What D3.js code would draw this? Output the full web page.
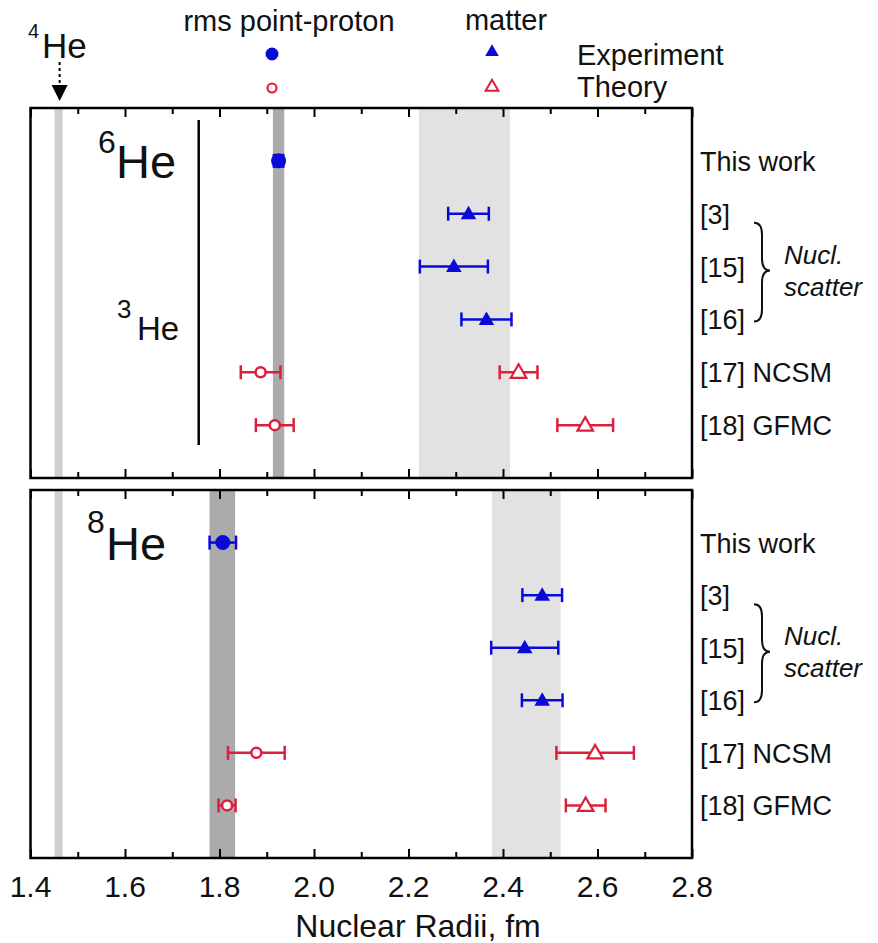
<!DOCTYPE html>
<html>
<head>
<meta charset="utf-8">
<script src="https://cdn.jsdelivr.net/npm/d3@7"></script>
<style>
  html, body { margin: 0; padding: 0; background: #fff; }
  svg { display: block; }
  text { font-family: "Liberation Sans", Arial, Helvetica, sans-serif; fill: #111; }
</style>
</head>
<body>
<div id="chart"></div>
<script>
// ---------------- DATA ----------------
const xDomain = [1.4, 2.8];
const tickLabels = [1.4, 1.6, 1.8, 2.0, 2.2, 2.4, 2.6, 2.8];
const minorTicks = [1.5, 1.7, 1.9, 2.1, 2.3, 2.5, 2.7];
const rowLabels = ["This work", "[3]", "[15]", "[16]", "[17] NCSM", "[18] GFMC"];

// 4He point-proton radius band and 3He radius line
const he4Band = [1.451, 1.468];
const he3Radius = 1.756;

// 6He panel
const he6ProtonBand = [1.913, 1.937];
const he6MatterBand = [2.222, 2.415];
const he6Proton = [
  { row: 0, v: 1.925, err: 0.010, kind: "exp" },
  { row: 4, v: 1.887, err: 0.042, kind: "th" },
  { row: 5, v: 1.917, err: 0.040, kind: "th" }
];
const he6Matter = [
  { row: 1, v: 2.327, err: 0.043, kind: "exp" },
  { row: 2, v: 2.296, err: 0.072, kind: "exp" },
  { row: 3, v: 2.365, err: 0.053, kind: "exp" },
  { row: 4, v: 2.433, err: 0.040, kind: "th" },
  { row: 5, v: 2.574, err: 0.059, kind: "th" }
];

// 8He panel
const he8ProtonBand = [1.779, 1.833];
const he8MatterBand = [2.377, 2.522];
const he8Proton = [
  { row: 0, v: 1.807, err: 0.028, kind: "exp" },
  { row: 4, v: 1.878, err: 0.060, kind: "th" },
  { row: 5, v: 1.816, err: 0.018, kind: "th" }
];
const he8Matter = [
  { row: 1, v: 2.483, err: 0.042, kind: "exp" },
  { row: 2, v: 2.446, err: 0.071, kind: "exp" },
  { row: 3, v: 2.483, err: 0.043, kind: "exp" },
  { row: 4, v: 2.595, err: 0.082, kind: "th" },
  { row: 5, v: 2.575, err: 0.042, kind: "th" }
];

// ---------------- LAYOUT ----------------
const W = 878, H = 943;
const left = 30.5, right = 692;
const panels = [
  { top: 108, bottom: 478, label: "6", pBand: he6ProtonBand, mBand: he6MatterBand, proton: he6Proton, matter: he6Matter },
  { top: 490, bottom: 858, label: "8", pBand: he8ProtonBand, mBand: he8MatterBand, proton: he8Proton, matter: he8Matter }
];
const BLUE = "#0a0ad8";
const RED = "#dc1f3c";

const svg = d3.select("#chart").append("svg")
  .attr("width", W).attr("height", H)
  .attr("viewBox", `0 0 ${W} ${H}`);

const x = d3.scaleLinear().domain(xDomain).range([left, right]);

const triSym = d3.symbol().type(d3.symbolTriangle).size(105);

function drawMarker(g, cx, cy, shape, kind) {
  const col = kind === "exp" ? BLUE : RED;
  if (shape === "circle") {
    if (kind === "exp") {
      g.append("circle").attr("cx", cx).attr("cy", cy).attr("r", 7.5).attr("fill", col);
    } else {
      g.append("circle").attr("cx", cx).attr("cy", cy).attr("r", 5).attr("fill", "#fff")
        .attr("stroke", col).attr("stroke-width", 2.5);
    }
  } else {
    const p = g.append("path").attr("d", triSym()).attr("transform", `translate(${cx},${cy + 1})`);
    if (kind === "exp") p.attr("fill", col);
    else p.attr("fill", "#fff").attr("stroke", col).attr("stroke-width", 2.2);
  }
}

panels.forEach((P, pi) => {
  const y = d3.scaleLinear().domain([0, 7]).range([P.top, P.bottom]);
  const g = svg.append("g");

  // bands
  const band = (r, fill) => g.append("rect")
    .attr("x", x(r[0])).attr("width", x(r[1]) - x(r[0]))
    .attr("y", P.top).attr("height", P.bottom - P.top).attr("fill", fill);
  band(he4Band, "#cfcfcf");
  band(P.mBand, "#e2e2e2");
  band(P.pBand, "#ababab");

  // 3He line in 6He panel
  if (pi === 0) {
    g.append("line").attr("x1", x(he3Radius)).attr("x2", x(he3Radius))
      .attr("y1", P.top + 12).attr("y2", P.bottom - 33)
      .attr("stroke", "#000").attr("stroke-width", 2.5);
  }

  // frame
  g.append("rect").attr("x", left).attr("y", P.top)
    .attr("width", right - left).attr("height", P.bottom - P.top)
    .attr("fill", "none").attr("stroke", "#000").attr("stroke-width", 2.5);

  // axes ticks (inward, top and bottom)
  const axTop = d3.axisBottom(x).tickValues(tickLabels).tickSize(9).tickFormat("");
  const axTopMinor = d3.axisBottom(x).tickValues(minorTicks).tickSize(6).tickFormat("");
  const axBot = d3.axisTop(x).tickValues(tickLabels).tickSize(9).tickFormat("");
  const axBotMinor = d3.axisTop(x).tickValues(minorTicks).tickSize(6).tickFormat("");
  [axTop, axTopMinor].forEach(a => g.append("g").attr("transform", `translate(0,${P.top})`).call(a));
  [axBot, axBotMinor].forEach(a => g.append("g").attr("transform", `translate(0,${P.bottom})`).call(a));
  g.selectAll(".domain").remove();
  g.selectAll(".tick line").attr("stroke", "#000").attr("stroke-width", 2);

  // data
  const drawSeries = (data, shape) => {
    data.forEach(d => {
      const col = d.kind === "exp" ? BLUE : RED;
      const cy = y(d.row + 1);
      const x0 = x(d.v - d.err), x1 = x(d.v + d.err);
      g.append("line").attr("x1", x0).attr("x2", x1).attr("y1", cy).attr("y2", cy)
        .attr("stroke", col).attr("stroke-width", 2.5);
      [x0, x1].forEach(xx => g.append("line").attr("x1", xx).attr("x2", xx)
        .attr("y1", cy - 7).attr("y2", cy + 7).attr("stroke", col).attr("stroke-width", 2.5));
      drawMarker(g, x(d.v), cy, shape, d.kind);
    });
  };
  drawSeries(P.proton, "circle");
  drawSeries(P.matter, "triangle");

  // isotope label
  if (pi === 0) {
    g.append("text").attr("x", 98).attr("y", 153).style("font-size", "32px").text("6");
    g.append("text").attr("x", 116).attr("y", 178).style("font-size", "47px").text("He");
    g.append("text").attr("x", 117).attr("y", 318).style("font-size", "26px").text("3");
    g.append("text").attr("x", 137).attr("y", 340).style("font-size", "33px").text("He");
  } else {
    g.append("text").attr("x", 87).attr("y", 533).style("font-size", "32px").text("8");
    g.append("text").attr("x", 106).attr("y", 560).style("font-size", "47px").text("He");
  }

  // right labels
  rowLabels.forEach((t, i) => {
    g.append("text").attr("x", 700).attr("y", y(i + 1) + 10)
      .style("font-size", "27px").text(t);
  });

  // brace
  const bt = y(2) + 9, bm = y(3) + 4, bb = y(4) + 2;
  const bx = 754, bxm = 762, tip = 770;
  g.append("path")
    .attr("d", `M${bx},${bt} Q${bxm},${bt} ${bxm},${bt + 12} L${bxm},${bm - 12} Q${bxm},${bm} ${tip},${bm}` +
               ` Q${bxm},${bm} ${bxm},${bm + 12} L${bxm},${bb - 12} Q${bxm},${bb} ${bx},${bb}`)
    .attr("fill", "none").attr("stroke", "#111").attr("stroke-width", 2);
  g.append("text").attr("x", 784).attr("y", y(3) - 3).style("font-size", "26px")
    .style("font-style", "italic").text("Nucl.");
  g.append("text").attr("x", 784).attr("y", y(3) + 29).style("font-size", "26px")
    .style("font-style", "italic").text("scatter");
});

// bottom axis labels
svg.append("g").selectAll("text").data(tickLabels).join("text")
  .attr("x", d => x(d)).attr("y", 897).attr("text-anchor", "middle")
  .style("font-size", "30px").text(d => d.toFixed(1));
svg.append("text").attr("x", 418).attr("y", 937).attr("text-anchor", "middle")
  .style("font-size", "32px").text("Nuclear Radii, fm");

// 4He marker at top
svg.append("text").attr("x", 28).attr("y", 38).style("font-size", "20px").text("4");
svg.append("text").attr("x", 42).attr("y", 58).style("font-size", "35px").text("He");
const he4x = x((he4Band[0] + he4Band[1]) / 2) + 1;
svg.append("line").attr("x1", he4x).attr("x2", he4x).attr("y1", 62).attr("y2", 86)
  .attr("stroke", "#000").attr("stroke-width", 2).attr("stroke-dasharray", "3,3");
svg.append("path").attr("d", `M${he4x - 8},85 L${he4x + 8},85 L${he4x},101 Z`).attr("fill", "#000");

// legend
svg.append("text").attr("x", 289).attr("y", 31).attr("text-anchor", "middle")
  .style("font-size", "29px").text("rms point-proton");
svg.append("text").attr("x", 506).attr("y", 30).attr("text-anchor", "middle")
  .style("font-size", "29px").text("matter");
svg.append("text").attr("x", 577).attr("y", 65).style("font-size", "29px").text("Experiment");
svg.append("text").attr("x", 577).attr("y", 97).style("font-size", "29px").text("Theory");
const lg = svg.append("g");
lg.append("circle").attr("cx", 272).attr("cy", 54).attr("r", 6.5).attr("fill", BLUE);
lg.append("circle").attr("cx", 272).attr("cy", 88).attr("r", 4.5).attr("fill", "#fff")
  .attr("stroke", RED).attr("stroke-width", 2.2);
lg.append("path").attr("d", d3.symbol().type(d3.symbolTriangle).size(80)())
  .attr("transform", "translate(492,52)").attr("fill", BLUE);
lg.append("path").attr("d", d3.symbol().type(d3.symbolTriangle).size(70)())
  .attr("transform", "translate(492,87)").attr("fill", "#fff").attr("stroke", RED).attr("stroke-width", 2);
</script>
</body>
</html>
